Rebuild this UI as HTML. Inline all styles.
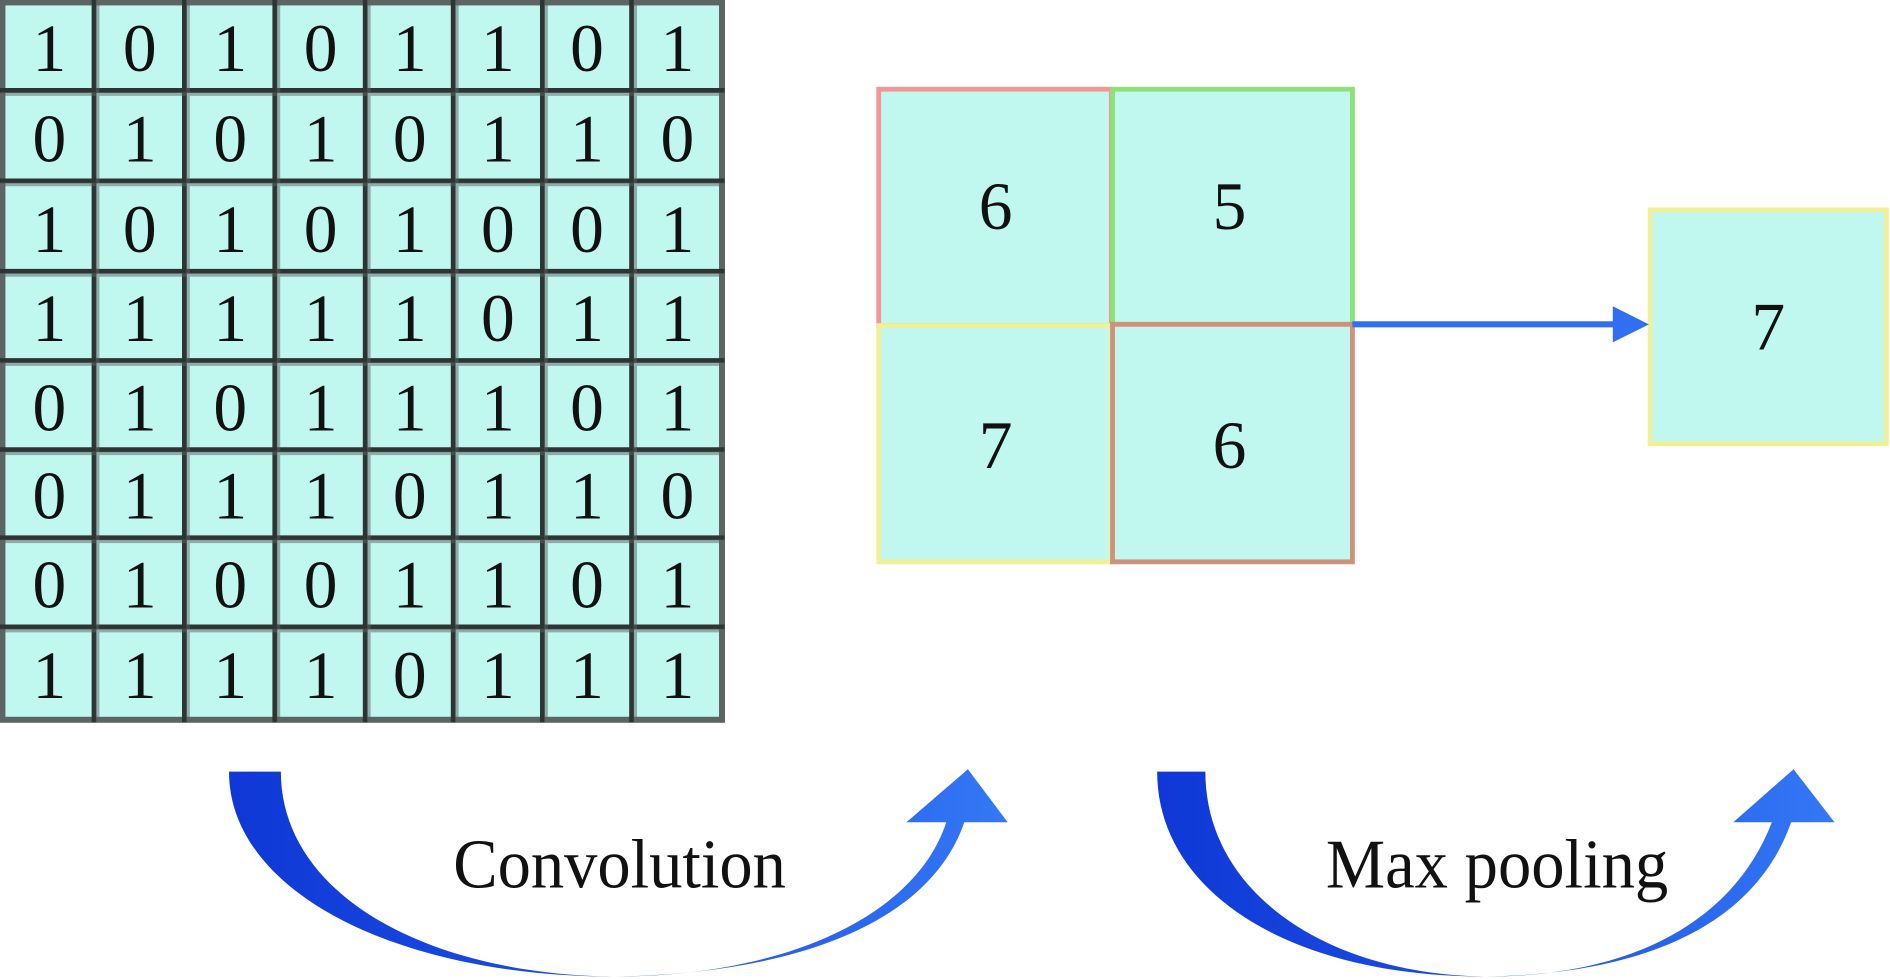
<!DOCTYPE html>
<html><head><style>html,body{margin:0;padding:0;background:#fff;}svg{display:block}</style></head>
<body>
<svg width="1890" height="979" viewBox="0 0 1568 812" preserveAspectRatio="none" xmlns="http://www.w3.org/2000/svg" font-family="Liberation Serif, serif">
<defs>
<linearGradient id="g1" x1="0" x2="1" y1="0" y2="0"><stop offset="0" stop-color="#0f38d6"/><stop offset="0.5" stop-color="#1c50e2"/><stop offset="1" stop-color="#3478f6"/></linearGradient>
</defs>
<rect x="2" y="2" width="597" height="595" fill="#c0f8f0" stroke="#5c6464" stroke-width="5"/>
<g stroke="#2e3434" stroke-width="4">
<line x1="78" y1="0" x2="78" y2="599"/><line x1="153" y1="0" x2="153" y2="599"/><line x1="228" y1="0" x2="228" y2="599"/><line x1="303" y1="0" x2="303" y2="599"/><line x1="376" y1="0" x2="376" y2="599"/><line x1="450" y1="0" x2="450" y2="599"/><line x1="524" y1="0" x2="524" y2="599"/>
<line x1="0" y1="75" x2="601" y2="75"/><line x1="0" y1="150" x2="601" y2="150"/><line x1="0" y1="225" x2="601" y2="225"/><line x1="0" y1="299" x2="601" y2="299"/><line x1="0" y1="373" x2="601" y2="373"/><line x1="0" y1="446" x2="601" y2="446"/><line x1="0" y1="520" x2="601" y2="520"/>
</g>
<g fill="none" stroke="#5c6464" stroke-width="3" opacity="0.5">
<line x1="81" y1="0" x2="81" y2="599"/><line x1="156" y1="0" x2="156" y2="599"/><line x1="231" y1="0" x2="231" y2="599"/><line x1="306" y1="0" x2="306" y2="599"/><line x1="379" y1="0" x2="379" y2="599"/><line x1="453" y1="0" x2="453" y2="599"/><line x1="527" y1="0" x2="527" y2="599"/>
<line x1="0" y1="78" x2="601" y2="78"/><line x1="0" y1="153" x2="601" y2="153"/><line x1="0" y1="228" x2="601" y2="228"/><line x1="0" y1="302" x2="601" y2="302"/><line x1="0" y1="376" x2="601" y2="376"/><line x1="0" y1="449" x2="601" y2="449"/><line x1="0" y1="523" x2="601" y2="523"/>
</g>
<g font-size="56" text-anchor="middle" fill="#111">
<text y="59"><tspan x="41">1</tspan><tspan x="116">0</tspan><tspan x="191">1</tspan><tspan x="266">0</tspan><tspan x="340">1</tspan><tspan x="413">1</tspan><tspan x="487">0</tspan><tspan x="562">1</tspan></text>
<text y="134"><tspan x="41">0</tspan><tspan x="116">1</tspan><tspan x="191">0</tspan><tspan x="266">1</tspan><tspan x="340">0</tspan><tspan x="413">1</tspan><tspan x="487">1</tspan><tspan x="562">0</tspan></text>
<text y="209"><tspan x="41">1</tspan><tspan x="116">0</tspan><tspan x="191">1</tspan><tspan x="266">0</tspan><tspan x="340">1</tspan><tspan x="413">0</tspan><tspan x="487">0</tspan><tspan x="562">1</tspan></text>
<text y="283"><tspan x="41">1</tspan><tspan x="116">1</tspan><tspan x="191">1</tspan><tspan x="266">1</tspan><tspan x="340">1</tspan><tspan x="413">0</tspan><tspan x="487">1</tspan><tspan x="562">1</tspan></text>
<text y="357"><tspan x="41">0</tspan><tspan x="116">1</tspan><tspan x="191">0</tspan><tspan x="266">1</tspan><tspan x="340">1</tspan><tspan x="413">1</tspan><tspan x="487">0</tspan><tspan x="562">1</tspan></text>
<text y="430"><tspan x="41">0</tspan><tspan x="116">1</tspan><tspan x="191">1</tspan><tspan x="266">1</tspan><tspan x="340">0</tspan><tspan x="413">1</tspan><tspan x="487">1</tspan><tspan x="562">0</tspan></text>
<text y="504"><tspan x="41">0</tspan><tspan x="116">1</tspan><tspan x="191">0</tspan><tspan x="266">0</tspan><tspan x="340">1</tspan><tspan x="413">1</tspan><tspan x="487">0</tspan><tspan x="562">1</tspan></text>
<text y="579"><tspan x="41">1</tspan><tspan x="116">1</tspan><tspan x="191">1</tspan><tspan x="266">1</tspan><tspan x="340">0</tspan><tspan x="413">1</tspan><tspan x="487">1</tspan><tspan x="562">1</tspan></text>
</g>
<g stroke-width="4" fill="#c0f8f0">
<rect x="729" y="74" width="193" height="196" stroke="#f09898"/>
<rect x="729" y="270" width="193" height="196" stroke="#f0f098"/>
<rect x="923" y="74" width="199" height="195" stroke="#90e078"/>
<rect x="923" y="269" width="199" height="197" stroke="#d0907a"/>
<rect x="1369" y="174" width="196" height="194" stroke="#f0f098"/>
</g>
<g font-size="56" text-anchor="middle" fill="#111">
<text x="826" y="190">6</text><text x="1020" y="190">5</text><text x="826" y="388">7</text><text x="1020" y="388">6</text><text x="1467" y="290">7</text>
</g>
<line x1="1122" y1="269" x2="1345" y2="269" stroke="#3070f0" stroke-width="5"/>
<polygon points="1338,254 1368,269 1338,284" fill="#3070f0"/>
<path d="M190,640 C190,740 330,810 510,810 C650,810 760,760 785,682 L752,682 L803,638 L836,682 L800,682 C770,770 650,808 510,810 C350,808 233,740 233,640 Z" fill="url(#g1)"/>
<path d="M960,640 C960,740 1070,810 1232,810 C1360,810 1440,760 1470,682 L1438,682 L1488,638 L1522,682 L1486,682 C1455,770 1360,808 1232,810 C1100,808 1000,740 1000,640 Z" fill="url(#g1)"/>
<g font-size="58" fill="#111">
<text x="376" y="736" textLength="276" lengthAdjust="spacingAndGlyphs">Convolution</text>
<text x="1100" y="736" textLength="284" lengthAdjust="spacingAndGlyphs">Max pooling</text>
</g>
</svg>
</body></html>
